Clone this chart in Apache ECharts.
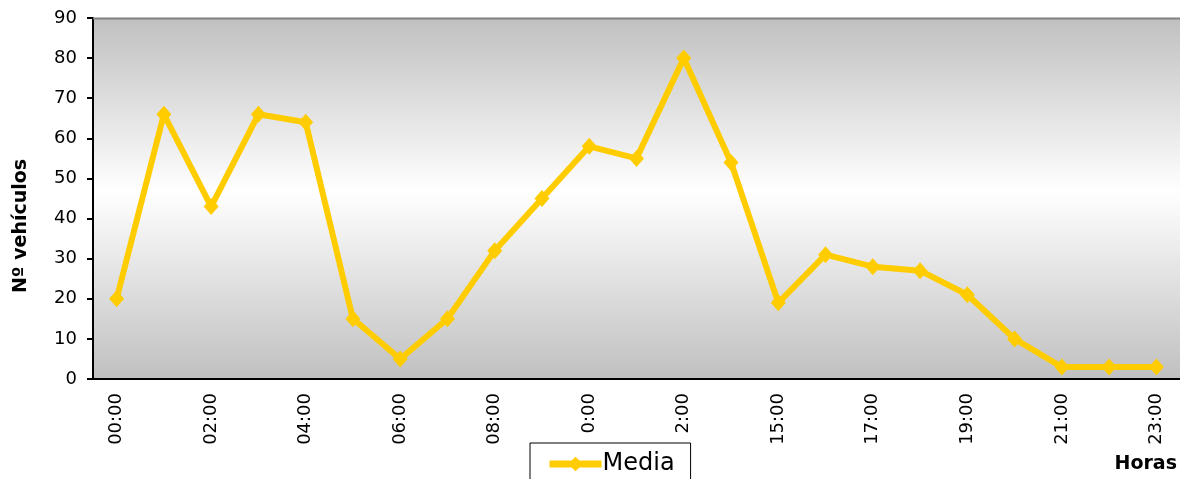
<!DOCTYPE html>
<html><head><meta charset="utf-8">
<script src="https://cdn.jsdelivr.net/npm/echarts@6/dist/echarts.min.js"></script>
<style>html,body{margin:0;padding:0;background:#fff}#c{width:1180px;height:479px}</style>
</head><body><div id="c"></div>
<script>
const categories = ["00:00","01:00","02:00","03:00","04:00","05:00","06:00","07:00","08:00","09:00","0:00","11:00","2:00","14:00","15:00","16:00","17:00","18:00","19:00","20:00","21:00","22:00","23:00"];
const media = [20,66,43,66,64,15,5,15,32,45,58,55,80,54,19,31,28,27,21,10,3,3,3];
const yTicks = {min:0, max:90, interval:10};
const FONT = 'DejaVu Sans';
const chart = echarts.init(document.getElementById('c'));
chart.setOption({
  animation:false,
  textStyle:{fontFamily:FONT},
  grid:{left:93,right:0,top:18,bottom:100,show:true,borderWidth:0,outerBoundsMode:'none',containLabel:false,
    backgroundColor:new echarts.graphic.LinearGradient(0,0,0,1,[
      {offset:0,color:'#c0c0c0'},{offset:0.48,color:'#ffffff'},{offset:1,color:'#c0c0c0'}])},
  legend:{data:['Media'],left:530,top:443,borderColor:'#000',borderWidth:1,borderRadius:0,
    padding:[9,16,12,16],itemWidth:52,itemHeight:18,itemGap:4,
    lineStyle:{width:7,color:'#ffcc00'},
    textStyle:{fontFamily:FONT,fontSize:24,color:'#000',padding:[0,0,0,-4]}},
  xAxis:{type:'category',data:categories,boundaryGap:true,
    axisLine:{lineStyle:{color:'#000',width:2}},
    axisTick:{interval:0,length:6,lineStyle:{color:'#000',width:2}},
    axisLabel:{interval:1,rotate:90,margin:14,color:'#000',fontSize:18,fontFamily:FONT},
    splitLine:{show:false}},
  yAxis:{type:'value',min:yTicks.min,max:yTicks.max,interval:yTicks.interval,
    axisLine:{show:true,lineStyle:{color:'#000',width:2}},
    axisTick:{show:true,length:6,lineStyle:{color:'#000',width:2}},
    axisLabel:{color:'#000',fontSize:18,margin:16,fontFamily:FONT},
    splitLine:{show:false}},
  graphic:[
    {type:'line',shape:{x1:93,y1:18.5,x2:1180,y2:18.5},style:{stroke:'#808080',lineWidth:2},z:10},
    {type:'text',x:21,y:226,rotation:Math.PI/2,style:{text:'Nº vehículos',font:'bold 19px '+FONT,fill:'#000',align:'center',verticalAlign:'middle'}},
    {type:'text',right:3,top:455,style:{text:'Horas',font:'bold 19px '+FONT,fill:'#000'}}
  ],
  series:[{name:'Media',type:'line',data:media,
    lineStyle:{color:'#ffcc00',width:6},
    itemStyle:{color:'#ffcc00'},
    symbol:'diamond',symbolSize:[15,17],showAllSymbol:true}]
});
</script></body></html>
